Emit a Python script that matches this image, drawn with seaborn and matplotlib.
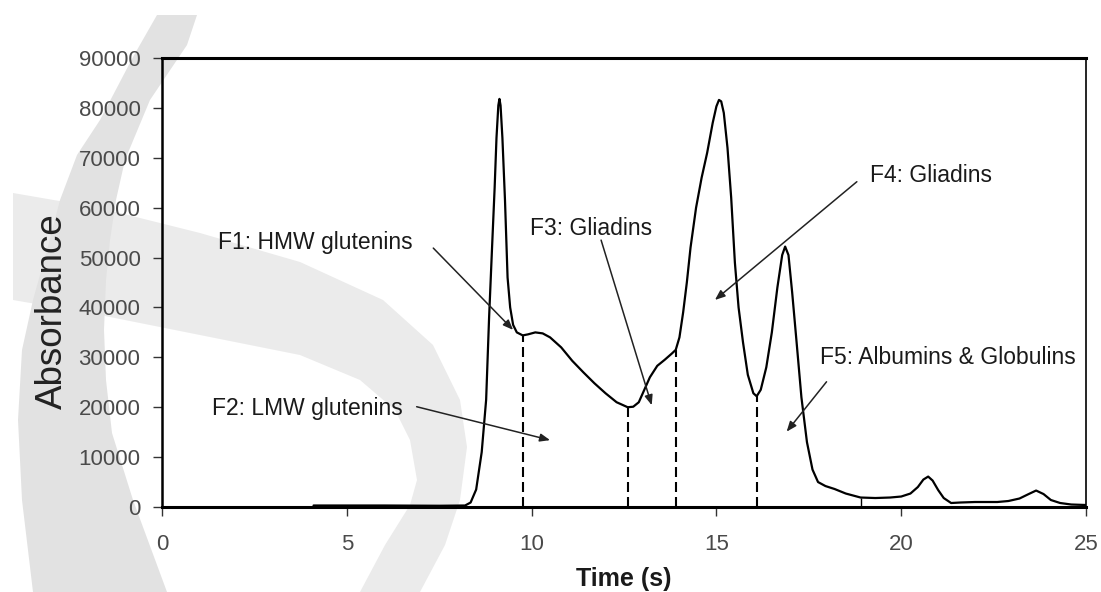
import numpy as np
import matplotlib
matplotlib.use("Agg")
import matplotlib.pyplot as plt
import seaborn as sns

# chromatogram
time_s = [4.1, 6.0, 7.5, 8.2, 8.35, 8.5, 8.65, 8.77, 8.85, 8.93, 9.0, 9.05, 9.1,
          9.13, 9.16, 9.21, 9.28, 9.35, 9.42, 9.5, 9.6, 9.76, 9.9, 10.1, 10.3,
          10.5, 10.8, 11.1, 11.4, 11.7, 12.0, 12.3, 12.6, 12.75, 12.9, 13.05,
          13.2, 13.4, 13.6, 13.8, 13.9, 14.0, 14.1, 14.2, 14.3, 14.45, 14.6,
          14.75, 14.9, 15.0, 15.07, 15.13, 15.2, 15.3, 15.4, 15.5, 15.6, 15.72,
          15.85, 16.0, 16.09, 16.2, 16.35, 16.5, 16.65, 16.78, 16.86, 16.95,
          17.05, 17.17, 17.3, 17.45, 17.6, 17.75, 17.95, 18.2, 18.5, 18.9, 19.3,
          19.7, 20.0, 20.25, 20.45, 20.6, 20.73, 20.85, 21.0, 21.15, 21.35, 21.6,
          22.0, 22.6, 22.9, 23.2, 23.45, 23.65, 23.85, 24.05, 24.3, 24.6, 25.0]
absorbance = [300, 300, 250, 300, 900, 3500, 11000, 21500, 38000, 52000, 64000,
              74000, 80500, 81800, 80500, 74000, 61500, 46000, 40000, 36500,
              35000, 34400, 34600, 35000, 34800, 34000, 32000, 29300, 27000,
              24800, 22800, 21000, 20000, 20100, 21000, 23500, 26000, 28300,
              29500, 30800, 31500, 34000, 39000, 45000, 52000, 60000, 66000,
              71000, 77000, 80300, 81600, 81300, 79000, 72000, 62000, 49000,
              40000, 33000, 26500, 22800, 22200, 23500, 28000, 35000, 44000,
              50500, 52200, 50500, 43000, 33000, 22000, 13000, 7500, 5000, 4200,
              3600, 2700, 1900, 1800, 1900, 2100, 2700, 4000, 5500, 6100, 5300,
              3400, 1800, 800, 900, 1000, 1000, 1200, 1700, 2600, 3300, 2600,
              1400, 800, 500, 400]

# fraction cut points
cut_x = [9.76, 12.6, 13.9, 16.09]
cut_top = [34400, 20000, 31500, 22200]

labels = ["F1: HMW glutenins", "F2: LMW glutenins", "F3: Gliadins",
          "F4: Gliadins", "F5: Albumins & Globulins"]
label_xy = [(1.52, 53000), (1.35, 19800), (9.96, 55900), (19.16, 66500), (17.8, 29900)]
arrow_from = [(7.34, 51900), (6.89, 20100), (11.88, 53500), (18.8, 65200), (17.98, 25100)]
arrow_to = [(9.5, 35500), (10.5, 13400), (13.25, 20400), (14.96, 41500), (16.9, 15100)]

# light grey watermark behind the chart (pixel coords)
band_outer = [(13, 193), (100, 208), (200, 233), (300, 262), (383, 300), (433, 345),
              (460, 400), (467, 447), (460, 500), (445, 545), (420, 592)]
band_inner = [(360, 592), (385, 545), (410, 505), (417, 480), (410, 440), (395, 410),
              (360, 380), (300, 355), (200, 335), (100, 315), (13, 300)]
cres_left = [(157, 15), (133, 57), (100, 120), (77, 155), (60, 200), (47, 250),
             (33, 300), (22, 350), (18, 420), (22, 500), (33, 592)]
cres_right = [(167, 592), (133, 500), (112, 433), (106, 380), (104, 330), (106, 280),
              (110, 240), (116, 200), (125, 160), (150, 100), (187, 45), (197, 15)]

sns.set_style("white")
plt.rcParams['font.family'] = ['Liberation Sans', 'DejaVu Sans']

fig = plt.figure(figsize=(11.01, 5.92), dpi=100)

bg = fig.add_axes([0, 0, 1, 1], zorder=-1)
bg.set_xlim(0, 1101)
bg.set_ylim(592, 0)
bg.axis('off')
pts = band_outer + band_inner
bg.fill([p[0] for p in pts], [p[1] for p in pts], color='#ebebeb', lw=0)
pts = cres_left + cres_right
bg.fill([p[0] for p in pts], [p[1] for p in pts], color='#e2e2e2', lw=0)

ax = fig.add_axes([162 / 1101, 85 / 592, 924 / 1101, 449 / 592])
ax.set_facecolor('none')

sns.lineplot(x=time_s, y=absorbance, ax=ax, color='black', lw=1.6,
             estimator=None, sort=False)

ax.vlines(cut_x, 0, cut_top, colors='black', lw=1.5, linestyles=(0, (4.8, 2.4)))
ax.vlines([18.9], 0, 1900, colors='black', lw=1.0)

for txt, xy, a, b in zip(labels, label_xy, arrow_from, arrow_to):
    ax.text(xy[0], xy[1], txt, fontsize=16.5, color='#1a1a1a', ha='left', va='center')
    ax.annotate('', xy=b, xytext=a,
                arrowprops=dict(arrowstyle='-|>,head_length=0.5,head_width=0.2',
                                color='#222222', lw=1.1, mutation_scale=12,
                                shrinkA=0, shrinkB=0))

ax.set_xlim(0, 25)
ax.set_ylim(0, 90000)
ax.set_xticks(np.arange(0, 26, 5))
ax.set_yticks(np.arange(0, 90001, 10000))
ax.tick_params(axis='both', direction='out', length=6.5, width=1, color='#333333',
               labelsize=16, labelcolor='#4a4a4a')
ax.tick_params(axis='y', pad=9, left=True)
ax.tick_params(axis='x', pad=13, bottom=True)

for side, w in [('top', 2.2), ('bottom', 2.2), ('left', 1.8), ('right', 1.2)]:
    ax.spines[side].set_visible(True)
    ax.spines[side].set_color('black')
    ax.spines[side].set_linewidth(w)

ax.set_xlabel("Time (s)", fontsize=18, fontweight='bold', color='#1a1a1a')
ax.xaxis.set_label_coords(0.5, -0.133)
ax.set_ylabel("Absorbance", fontsize=26.5, color='#222222')
ax.yaxis.set_label_coords(-0.0996, 0.4365)

fig.savefig("out.png", dpi=100)
